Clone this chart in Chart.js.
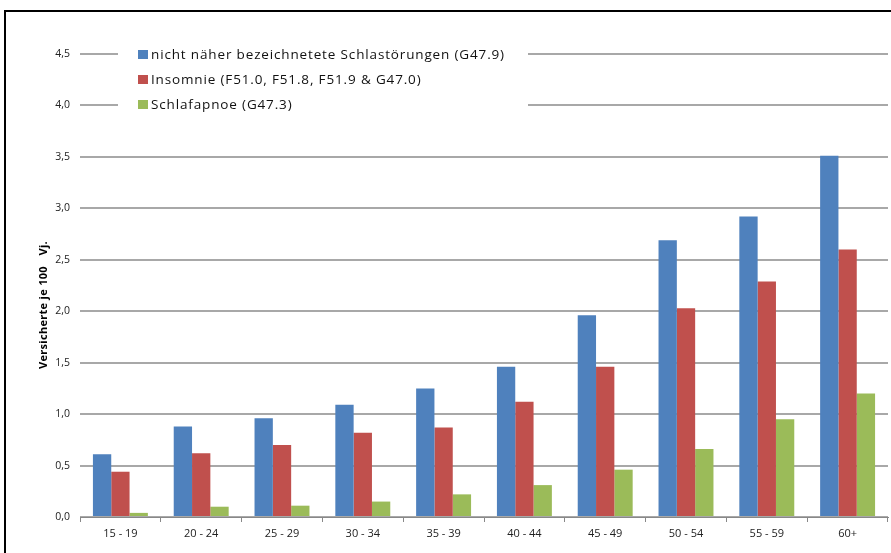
<!DOCTYPE html>
<html>
<head>
<meta charset="utf-8">
<script src="https://cdn.jsdelivr.net/npm/chart.js@4"></script>
<style>
  html, body { margin: 0; padding: 0; background: #fff; overflow: hidden; }
  #frame { position: absolute; left: 4px; top: 10px; width: 1000px; height: 700px;
           border-top: 2px solid #000; border-left: 2px solid #000; }
  #chart { position: absolute; left: 0; top: 0; }
</style>
</head>
<body>
<div id="frame"></div>
<canvas id="chart" width="891" height="553"></canvas>
<script>
// age groups
const ageGroups = ['15 - 19', '20 - 24', '25 - 29', '30 - 34', '35 - 39',
                   '40 - 44', '45 - 49', '50 - 54', '55 - 59', '60+'];

// insured persons per 100 insurance years
const unspecified = [0.61, 0.88, 0.96, 1.09, 1.25, 1.46, 1.96, 2.69, 2.92, 3.51];
const insomnia    = [0.44, 0.62, 0.70, 0.82, 0.87, 1.12, 1.46, 2.03, 2.29, 2.60];
const apnoea      = [0.04, 0.10, 0.11, 0.15, 0.22, 0.31, 0.46, 0.66, 0.95, 1.20];

const seriesNames = [
  'nicht näher bezeichnetete Schlastörungen (G47.9)',
  'Insomnie (F51.0, F51.8, F51.9 & G47.0)',
  'Schlafapnoe (G47.3)'
];
const yTicks = [0, 0.5, 1, 1.5, 2, 2.5, 3, 3.5, 4, 4.5];
const yTitleMain = 'Versicherte je 100';
const yTitleUnit = 'Vj.';

const fontFamily = '"Open Sans", "Liberation Sans", sans-serif';

// legend sits inside the plot area with a white box over the gridlines
const insideLegend = {
  id: 'insideLegend',
  afterDatasetsDraw(chart) {
    const ctx = chart.ctx;
    ctx.save();
    ctx.fillStyle = '#fff';
    ctx.fillRect(118, 44, 410, 72);
    ctx.font = '13.5px ' + fontFamily;
    ctx.letterSpacing = '0.85px';
    ctx.textBaseline = 'middle';
    chart.data.datasets.forEach((ds, i) => {
      const y = 55 + i * 25;
      ctx.fillStyle = ds.backgroundColor;
      ctx.fillRect(138, y - 5, 10, 9);
      ctx.fillStyle = '#111';
      ctx.fillText(ds.label, 151, y);
    });

    // y axis title, rotated
    ctx.font = 'bold 11px ' + fontFamily;
    ctx.letterSpacing = '0.3px';
    ctx.fillStyle = '#000';
    ctx.translate(44, 0);
    ctx.rotate(-Math.PI / 2);
    ctx.textAlign = 'left';
    ctx.fillText(yTitleMain, -369, 0);
    ctx.textAlign = 'right';
    ctx.fillText(yTitleUnit, -241, 0);
    ctx.restore();
  }
};

new Chart(document.getElementById('chart'), {
  type: 'bar',
  data: {
    labels: ageGroups,
    datasets: [
      { label: seriesNames[0], data: unspecified, backgroundColor: '#4F81BD' },
      { label: seriesNames[1], data: insomnia, backgroundColor: '#C0504D' },
      { label: seriesNames[2], data: apnoea, backgroundColor: '#9BBB59' }
    ]
  },
  options: {
    responsive: false,
    animation: false,
    layout: { padding: { top: 54, right: 3, left: 0, bottom: 0 } },
    datasets: { bar: { categoryPercentage: 0.68, barPercentage: 1.0 } },
    plugins: { legend: { display: false }, tooltip: { enabled: false } },
    scales: {
      x: {
        grid: { drawOnChartArea: false, drawTicks: true, tickLength: 5, color: '#888', offset: true },
        border: { display: true, color: '#888', width: 1 },
        ticks: { color: '#222', font: { family: fontFamily, size: 11 }, padding: 5, maxRotation: 0 },
        afterFit(scale) { scale.height = 36; }
      },
      y: {
        min: 0,
        max: 4.5,
        afterBuildTicks(scale) { scale.ticks = yTicks.map(v => ({ value: v })); },
        grid: { color: '#a8a8a8', lineWidth: 2, drawTicks: false },
        border: { display: false },
        ticks: {
          color: '#222',
          font: { family: fontFamily, size: 10.5 },
          padding: 10,
          callback: v => v.toFixed(1).replace('.', ',')
        },
        afterFit(scale) { scale.width = 80; }
      }
    }
  },
  plugins: [insideLegend]
});
</script>
</body>
</html>
